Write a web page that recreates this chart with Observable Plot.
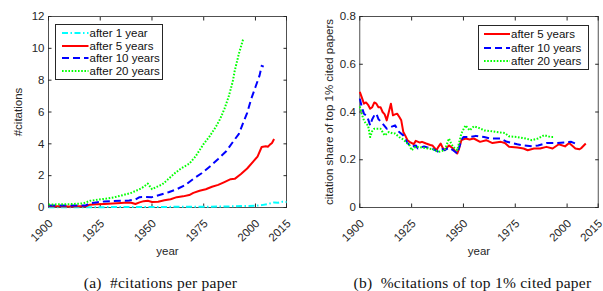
<!DOCTYPE html>
<html><head><meta charset="utf-8">
<script src="https://cdn.jsdelivr.net/npm/d3@7"></script>
<script src="https://cdn.jsdelivr.net/npm/@observablehq/plot@0.6"></script>
<style>
body{margin:0;background:#fff;}
#wrap{position:relative;width:603px;height:291px;overflow:hidden;font-family:"Liberation Sans",Arial,sans-serif;}
.panel{position:absolute;top:0;}
.legend{position:absolute;background:#fff;border:0.8px solid #262626;box-sizing:border-box;font-size:11.5px;color:#000;}
.row{position:absolute;left:0;display:flex;align-items:center;white-space:nowrap;}
.row svg{display:block;}
.caption{position:absolute;top:275px;font-family:"Liberation Serif","Times New Roman",serif;font-size:15.5px;letter-spacing:0.25px;line-height:16px;color:#111;white-space:pre;transform:translateX(-50%);}
</style>
</head><body>
<div id="wrap"></div>
<script>
// ---------- data ----------
const xTicks = [1900, 1925, 1950, 1975, 2000, 2015];
const yTicksA = [0, 2, 4, 6, 8, 10, 12];
const yTicksB = [0, 0.2, 0.4, 0.6, 0.8];
const seriesNames = ["after 1 year", "after 5 years", "after 10 years", "after 20 years"];

// (a) #citations per paper  [year, value]
const citAfter1 = [[1900,0.02],[1920,0.02],[1940,0.03],[1960,0.04],[1975,0.05],[1985,0.06],[1990,0.08],[1995,0.09],[2000,0.11],[2003,0.15],[2006,0.22],[2009,0.32],[2011,0.3],[2013,0.36],[2015,0.35]];
const citAfter5 = [[1900,0.08],[1905,0.08],[1910,0.07],[1915,0.08],[1918,0.08],[1920,0.18],[1923,0.2],[1927,0.22],[1931,0.25],[1935,0.28],[1938,0.31],[1940,0.3],[1942,0.22],[1944,0.32],[1946,0.4],[1948,0.42],[1950,0.35],[1953,0.36],[1956,0.45],[1959,0.52],[1962,0.65],[1965,0.7],[1968,0.78],[1970,0.92],[1973,1.05],[1976,1.15],[1979,1.3],[1982,1.42],[1985,1.6],[1988,1.78],[1990,1.8],[1993,2.1],[1996,2.45],[1999,2.9],[2001,3.2],[2003,3.8],[2005,3.85],[2006,3.82],[2007,3.95],[2008,4.05],[2009,4.3]];
const citAfter10 = [[1900,0.13],[1905,0.13],[1910,0.12],[1915,0.12],[1918,0.13],[1920,0.27],[1923,0.32],[1927,0.38],[1931,0.4],[1935,0.42],[1939,0.44],[1942,0.5],[1944,0.65],[1947,0.66],[1950,0.65],[1954,0.8],[1958,0.96],[1962,1.15],[1966,1.4],[1970,1.8],[1974,2.15],[1978,2.58],[1982,3.05],[1986,3.55],[1989,4.1],[1992,4.63],[1994,5.3],[1996,5.95],[1998,6.84],[2000,7.57],[2002,8.3],[2003,8.9],[2004,8.85]];
const citAfter20 = [[1900,0.19],[1905,0.2],[1910,0.21],[1915,0.24],[1917,0.27],[1920,0.42],[1924,0.5],[1928,0.56],[1932,0.65],[1936,0.78],[1940,0.92],[1944,1.15],[1946,1.3],[1948,1.5],[1950,1.15],[1952,1.28],[1955,1.45],[1958,1.8],[1961,2.15],[1964,2.45],[1968,2.75],[1971,3.2],[1975,4.0],[1978,4.5],[1981,5.1],[1983,5.58],[1985,6.2],[1987,6.94],[1989,7.9],[1990,8.6],[1992,9.67],[1994,10.55]];

// (b) citation share of top 1% cited papers  [year, value]
const shareAfter5 = [[1900,0.484],[1901,0.46],[1902,0.435],[1903,0.44],[1904,0.43],[1905,0.414],[1906,0.42],[1907,0.44],[1908,0.435],[1909,0.42],[1910,0.42],[1911,0.4],[1912,0.39],[1913,0.365],[1914,0.4],[1915,0.435],[1916,0.386],[1917,0.39],[1918,0.393],[1919,0.38],[1920,0.365],[1921,0.316],[1922,0.3],[1923,0.282],[1924,0.275],[1926,0.265],[1927,0.279],[1929,0.272],[1930,0.275],[1932,0.268],[1934,0.262],[1935,0.26],[1937,0.24],[1938,0.255],[1939,0.268],[1940,0.25],[1941,0.24],[1943,0.26],[1945,0.247],[1947,0.226],[1948,0.25],[1949,0.282],[1951,0.289],[1953,0.285],[1955,0.289],[1958,0.275],[1961,0.282],[1964,0.27],[1968,0.275],[1970,0.27],[1972,0.254],[1976,0.251],[1979,0.247],[1981,0.24],[1984,0.247],[1987,0.247],[1990,0.254],[1993,0.247],[1996,0.265],[1999,0.256],[2001,0.27],[2004,0.247],[2006,0.244],[2007,0.25],[2009,0.268]];
const shareAfter10 = [[1900,0.456],[1901,0.42],[1902,0.393],[1903,0.386],[1904,0.37],[1905,0.344],[1906,0.37],[1907,0.386],[1908,0.393],[1909,0.37],[1911,0.351],[1913,0.33],[1915,0.337],[1917,0.344],[1919,0.316],[1921,0.302],[1923,0.27],[1925,0.254],[1927,0.26],[1928,0.247],[1931,0.256],[1933,0.25],[1935,0.247],[1938,0.233],[1940,0.245],[1941,0.24],[1943,0.25],[1945,0.24],[1947,0.226],[1949,0.282],[1950,0.295],[1953,0.295],[1956,0.3],[1960,0.295],[1963,0.289],[1968,0.289],[1971,0.275],[1976,0.265],[1979,0.26],[1983,0.256],[1986,0.26],[1990,0.27],[1995,0.27],[2002,0.275],[2004,0.268]];
const shareAfter20 = [[1900,0.423],[1901,0.39],[1902,0.365],[1903,0.35],[1904,0.344],[1905,0.295],[1906,0.32],[1907,0.33],[1909,0.33],[1910,0.33],[1912,0.302],[1914,0.316],[1916,0.31],[1917,0.31],[1919,0.295],[1921,0.285],[1923,0.268],[1924,0.26],[1925,0.24],[1927,0.255],[1930,0.251],[1933,0.247],[1935,0.245],[1938,0.233],[1941,0.24],[1943,0.289],[1944,0.27],[1945,0.254],[1947,0.24],[1949,0.31],[1951,0.344],[1953,0.323],[1955,0.34],[1957,0.335],[1960,0.323],[1963,0.32],[1966,0.316],[1970,0.312],[1972,0.298],[1976,0.295],[1980,0.289],[1983,0.282],[1986,0.289],[1989,0.303],[1992,0.295],[1994,0.295]];

// ---------- styles ----------
const styles = {
  "after 1 year":   {stroke: "#00ffff", strokeWidth: 2, strokeDasharray: "6,2.5,1.5,2.5"},
  "after 5 years":  {stroke: "#ff0000", strokeWidth: 2},
  "after 10 years": {stroke: "#0000ff", strokeWidth: 2, strokeDasharray: "7,4"},
  "after 20 years": {stroke: "#00ff00", strokeWidth: 2, strokeDasharray: "1.6,1.6"}
};
const axisColor = "#262626";

function axes(yTicks, yFmt, yLabel) {
  return [
    Plot.frame({stroke: axisColor, strokeWidth: 0.8}),
    Plot.axisX(xTicks, {anchor: "bottom", tickSize: -3.5, tickFormat: () => "",
      label: "year", labelAnchor: "center", labelArrow: "none", labelOffset: 47}),
    Plot.text(xTicks, {x: d => d, frameAnchor: "bottom", text: d => String(d), rotate: -45,
      textAnchor: "end", lineAnchor: "middle", dx: 2.3, dy: 14, fill: axisColor, fontSize: 11.5}),
    Plot.axisX(xTicks, {anchor: "top", tickSize: -3.5, tickFormat: () => "", label: null}),
    Plot.axisY(yTicks, {anchor: "left", tickSize: -3.5, tickPadding: 7.5, tickFormat: yFmt,
      label: yLabel, labelAnchor: "center", labelArrow: "none", labelOffset: 35}),
    Plot.axisY(yTicks, {anchor: "right", tickSize: -3.5, tickFormat: () => "", label: null})
  ];
}
function lineMark(data, name) {
  return Plot.line(data, {x: d => d[0], y: d => d[1], ...styles[name], strokeLinejoin: "round", strokeLinecap: "butt"});
}
const plotStyle = {fontSize: "11.5px", fontFamily: "'Liberation Sans', Arial, sans-serif", color: axisColor, background: "transparent", overflow: "visible"};

const plotA = Plot.plot({
  width: 300, height: 265,
  marginLeft: 48, marginRight: 14, marginTop: 16, marginBottom: 58,
  style: plotStyle,
  x: {domain: [1900, 2015]},
  y: {domain: [0, 12]},
  marks: [
    ...axes(yTicksA, d => String(d), "#citations"),
    lineMark(citAfter1, "after 1 year"),
    lineMark(citAfter5, "after 5 years"),
    lineMark(citAfter10, "after 10 years"),
    lineMark(citAfter20, "after 20 years")
  ]
});
const plotB = Plot.plot({
  width: 303, height: 265,
  marginLeft: 59.3, marginRight: 5.3, marginTop: 16, marginBottom: 58,
  style: plotStyle,
  x: {domain: [1900, 2015]},
  y: {domain: [0, 0.8]},
  marks: [
    ...axes(yTicksB, d => String(d), "citation share of top 1% cited papers"),
    lineMark(shareAfter5, "after 5 years"),
    lineMark(shareAfter10, "after 10 years"),
    lineMark(shareAfter20, "after 20 years")
  ]
});

const wrap = document.getElementById("wrap");
plotA.classList.add("panel"); plotA.style.left = "0px";
plotB.classList.add("panel"); plotB.style.left = "300px";
wrap.appendChild(plotA); wrap.appendChild(plotB);

function legend(names, box) {
  const div = document.createElement("div");
  div.className = "legend";
  Object.assign(div.style, {left: box.left + "px", top: box.top + "px", width: box.width + "px", height: box.height + "px"});
  names.forEach((n, i) => {
    const row = document.createElement("div");
    row.className = "row";
    row.style.top = (box.first + i * box.step - 7) + "px";
    row.style.height = "14px";
    row.style.left = box.sx + "px";
    const s = styles[n];
    const ns = "http://www.w3.org/2000/svg";
    const svg = document.createElementNS(ns, "svg");
    svg.setAttribute("width", box.sw); svg.setAttribute("height", 14);
    const ln = document.createElementNS(ns, "line");
    ln.setAttribute("x1", 0); ln.setAttribute("x2", box.sw); ln.setAttribute("y1", 7); ln.setAttribute("y2", 7);
    ln.setAttribute("stroke", s.stroke); ln.setAttribute("stroke-width", s.strokeWidth);
    if (s.strokeDasharray) ln.setAttribute("stroke-dasharray", s.strokeDasharray);
    svg.appendChild(ln);
    const t = document.createElement("span");
    t.textContent = n; t.style.marginLeft = "1px"; t.style.color = "#111";
    row.appendChild(svg); row.appendChild(t);
    div.appendChild(row);
  });
  wrap.appendChild(div);
}
legend(seriesNames, {left: 55, top: 24, width: 107.5, height: 55.5, first: 8, step: 12.7, sx: 6, sw: 26.5});
legend(seriesNames.slice(1), {left: 477.5, top: 25, width: 111.5, height: 44.5, first: 8.3, step: 13.5, sx: 5, sw: 26.5});

function caption(txt, cx) {
  const c = document.createElement("div");
  c.className = "caption"; c.textContent = txt; c.style.left = cx + "px";
  wrap.appendChild(c);
}
caption("(a)  #citations per paper", 160.5);
caption("(b)  %citations of top 1% cited paper", 472.5);
</script>
</body></html>
